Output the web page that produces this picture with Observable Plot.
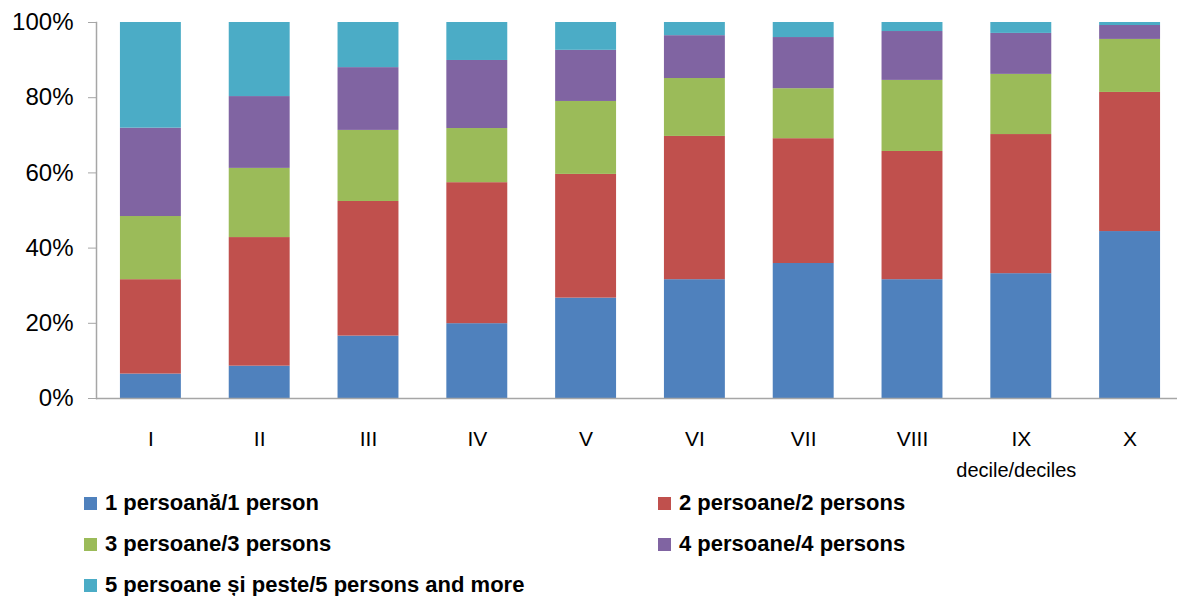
<!DOCTYPE html>
<html>
<head>
<meta charset="utf-8">
<script src="https://cdn.jsdelivr.net/npm/d3@7"></script>
<script src="https://cdn.jsdelivr.net/npm/@observablehq/plot@0.6"></script>
<style>
  html, body { margin: 0; padding: 0; background: #fff; overflow: hidden; width: 1177px; }
  body { font-family: "Liberation Sans", Arial, sans-serif; }
  #chart svg { max-width: none !important; }
  #legend { display: grid; grid-template-columns: 574px 500px; padding-left: 84px; margin-top: 10px; row-gap: 19px; }
  .item { display: flex; align-items: center; height: 22px; font-weight: bold; font-size: 22px; color: #000; white-space: nowrap; }
  .sw { width: 13px; height: 13px; margin-right: 8px; flex: none; }
</style>
</head>
<body>
<div id="chart"></div>
<div id="legend"></div>
<script>
const deciles = ["I", "II", "III", "IV", "V", "VI", "VII", "VIII", "IX", "X"];
const seriesNames = [
  "1 persoană/1 person",
  "2 persoane/2 persons",
  "3 persoane/3 persons",
  "4 persoane/4 persons",
  "5 persoane și peste/5 persons and more"
];
const colors = ["#4f81bd", "#c0504d", "#9bbb59", "#8064a2", "#4bacc6"];
const p1 = [6.5, 8.6, 16.6, 19.9, 26.7, 31.6, 35.9, 31.6, 33.2, 44.4];
const p2 = [25.1, 34.2, 35.8, 37.5, 32.9, 38.1, 33.2, 34.1, 37.0, 37.0];
const p3 = [16.8, 18.4, 18.9, 14.4, 19.4, 15.4, 13.3, 18.9, 16.0, 14.1];
const p4 = [23.5, 19.1, 16.7, 18.1, 13.6, 11.4, 13.6, 13.0, 10.9, 3.7];
const p5 = [28.1, 19.7, 12.0, 10.1, 7.4, 3.5, 4.0, 2.4, 2.9, 0.8];
const yTicks = [0, 20, 40, 60, 80, 100];
const axisTitle = "decile/deciles";

const seriesValues = [p1, p2, p3, p4, p5];
const table = [];
seriesValues.forEach((vals, si) => {
  vals.forEach((v, di) => table.push({decile: deciles[di], series: seriesNames[si], value: v}));
});

const font = '"Liberation Sans", Arial, sans-serif';
const gray = "#a6a6a6";

const chart = Plot.plot({
  width: 1184,
  height: 482,
  marginLeft: 96,
  marginRight: 0,
  marginTop: 22,
  marginBottom: 84,
  style: {fontFamily: font, background: "#fff", overflow: "visible", maxWidth: "none"},
  x: {domain: deciles, paddingInner: 0.44, paddingOuter: 0.22, round: false, label: null},
  y: {domain: [0, 100], label: null},
  color: {domain: seriesNames, range: colors},
  marks: [
    Plot.barY(table, {x: "decile", y: "value", z: "series", fill: "series", order: seriesNames}),
    Plot.ruleY([0], {stroke: gray, strokeWidth: 1.5}),
    Plot.frame({anchor: "left", stroke: gray, strokeWidth: 1.5}),
    Plot.axisY({ticks: yTicks, tickFormat: d => d + "%", tickSize: 8, tickPadding: 15, stroke: gray, strokeOpacity: 1, fontSize: 24, fill: "#000", label: null}),
    Plot.axisX({tickSize: 0, tickPadding: 33, fontSize: 21, fill: "#000", label: null}),
    Plot.text([axisTitle], {x: () => "IX", text: d => d, frameAnchor: "bottom", dy: 72, dx: -5, fontSize: 20, fill: "#000", lineAnchor: "middle"})
  ]
});
document.getElementById("chart").appendChild(chart);

const legend = document.getElementById("legend");
seriesNames.forEach((name, i) => {
  const item = document.createElement("div");
  item.className = "item";
  const sw = document.createElement("span");
  sw.className = "sw";
  sw.style.background = colors[i];
  const t = document.createElement("span");
  t.textContent = name;
  item.appendChild(sw);
  item.appendChild(t);
  legend.appendChild(item);
});
</script>
</body>
</html>
